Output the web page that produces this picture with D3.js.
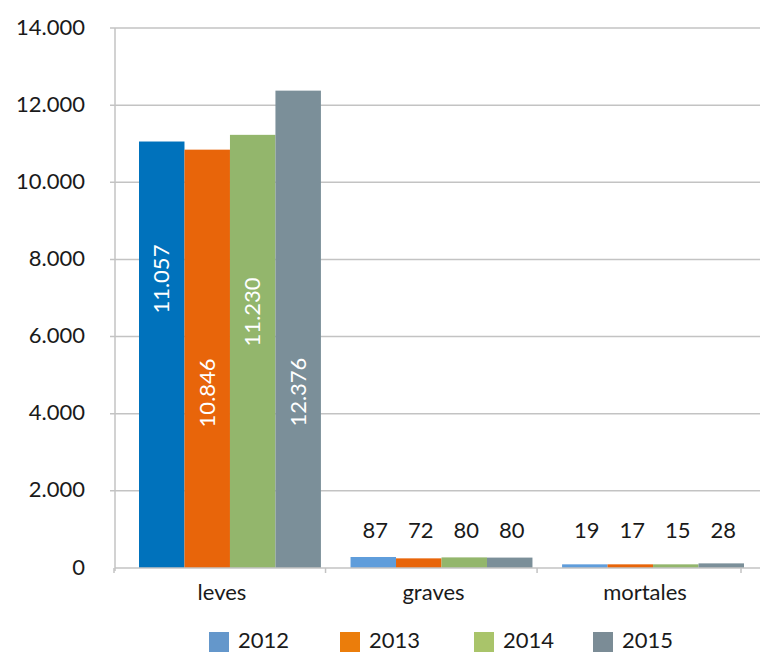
<!DOCTYPE html>
<html>
<head>
<meta charset="utf-8">
<script src="https://cdn.jsdelivr.net/npm/d3@7"></script>
<style>
  body { margin: 0; background: #fff; }
  svg text { font-family: Lato, "Open Sans", sans-serif; fill: #1a1a1a; }
</style>
</head>
<body>
<svg id="chart" width="760" height="652"></svg>
<script>
//----------------------------------------------------------------------------------------------------------------------
// Data
//----------------------------------------------------------------------------------------------------------------------
const categorias = ["leves", "graves", "mortales"];
const anios = ["2012", "2013", "2014", "2015"];

// printed values, one array per year (leves, graves, mortales)
const v2012 = [11057, 87, 19];
const v2013 = [10846, 72, 17];
const v2014 = [11230, 80, 15];
const v2015 = [12376, 80, 28];

// bar heights as they are drawn in the picture (the small groups are drawn taller than their labels)
const alto2012 = [11057, 285, 95];
const alto2013 = [10846, 250, 95];
const alto2014 = [11230, 275, 95];
const alto2015 = [12376, 270, 120];

// where the rotated labels of the "leves" group sit, in data units
const posEtiqueta = [7490, 4540, 6640, 4560];

const yTicks = [0, 2000, 4000, 6000, 8000, 10000, 12000, 14000];

const coloresBarra = ["#5f9ddb", "#e8650a", "#93b66c", "#7b8f99"];
const colorLeves2012 = "#0072bc";
const coloresLeyenda = ["#6497cb", "#eb7d0b", "#a9c46a", "#7b8c96"];

const valores = [v2012, v2013, v2014, v2015];
const alturas = [alto2012, alto2013, alto2014, alto2015];

//----------------------------------------------------------------------------------------------------------------------
// Scales
//----------------------------------------------------------------------------------------------------------------------
const svg = d3.select("#chart");
const axisX = 115, baseY = 568, rightX = 760;

const yScale = d3.scaleLinear().domain([0, 14000]).range([baseY, 28]);
const xScale = d3.scaleBand().domain(categorias).range([139, 744]).paddingInner(0.14);
const xInner = d3.scaleBand().domain(anios).range([0, xScale.bandwidth()]);

const fmt = d3.formatLocale({decimal: ",", thousands: ".", grouping: [3], currency: ["", "€"]}).format(",");

// grid + y ticks
svg.append("g").selectAll("line.grid")
    .data(yTicks.filter(d => d > 0))
    .enter().append("line")
    .attr("x1", axisX - 5).attr("x2", rightX)
    .attr("y1", d => yScale(d)).attr("y2", d => yScale(d))
    .attr("stroke", "#c3c3c3").attr("stroke-width", 1.5);

svg.append("g").selectAll("text")
    .data(yTicks)
    .enter().append("text")
    .attr("x", 85).attr("y", d => yScale(d)).attr("dy", "0.3em")
    .attr("text-anchor", "end")
    .style("font-size", "22px")
    .text(d => fmt(d));

//----------------------------------------------------------------------------------------------------------------------
// Bars
//----------------------------------------------------------------------------------------------------------------------
const rows = [];
anios.forEach((a, s) => {
    categorias.forEach((c, i) => {
        rows.push({anio: a, s: s, cat: c, i: i, valor: valores[s][i], alto: alturas[s][i]});
    });
});

svg.append("g").selectAll("rect")
    .data(rows)
    .enter().append("rect")
    .attr("x", d => xScale(d.cat) + xInner(d.anio))
    .attr("width", xInner.bandwidth())
    .attr("y", d => yScale(d.alto))
    .attr("height", d => baseY - yScale(d.alto))
    .attr("fill", d => (d.i === 0 && d.s === 0) ? colorLeves2012 : coloresBarra[d.s]);

// rotated labels inside the tall bars
svg.append("g").selectAll("text")
    .data(rows.filter(d => d.i === 0))
    .enter().append("text")
    .attr("transform", d => "translate(" + (xScale(d.cat) + xInner(d.anio) + xInner.bandwidth() / 2) + "," + yScale(posEtiqueta[d.s]) + ") rotate(-90)")
    .attr("text-anchor", "middle").attr("dy", "0.35em")
    .style("font-size", "22px").style("fill", "#fff")
    .text(d => fmt(d.valor));

// labels above the small bars
svg.append("g").selectAll("text")
    .data(rows.filter(d => d.i > 0))
    .enter().append("text")
    .attr("x", d => xScale(d.cat) + xInner(d.anio) + xInner.bandwidth() / 2 + 2)
    .attr("y", baseY - 30)
    .attr("text-anchor", "middle")
    .style("font-size", "22px")
    .text(d => fmt(d.valor));

//----------------------------------------------------------------------------------------------------------------------
// Axes
//----------------------------------------------------------------------------------------------------------------------
svg.append("line")
    .attr("x1", axisX).attr("x2", axisX).attr("y1", yScale(14000)).attr("y2", baseY + 3)
    .attr("stroke", "#c3c3c3").attr("stroke-width", 1.5);
svg.append("line")
    .attr("x1", axisX).attr("x2", rightX).attr("y1", baseY).attr("y2", baseY)
    .attr("stroke", "#c3c3c3").attr("stroke-width", 1.5);

const xTickPos = categorias.map(c => xScale(c) - 25);
xTickPos.push(xScale(categorias[2]) + xScale.bandwidth() - 3);
svg.append("g").selectAll("line")
    .data(xTickPos)
    .enter().append("line")
    .attr("x1", d => d).attr("x2", d => d).attr("y1", baseY).attr("y2", baseY + 5)
    .attr("stroke", "#c3c3c3").attr("stroke-width", 1.5);

svg.append("g").selectAll("text")
    .data(categorias)
    .enter().append("text")
    .attr("x", d => xScale(d) + xScale.bandwidth() / 2 - 8)
    .attr("y", 600)
    .attr("text-anchor", "middle")
    .style("font-size", "22px")
    .text(d => d);

//----------------------------------------------------------------------------------------------------------------------
// Legend
//----------------------------------------------------------------------------------------------------------------------
const legX = [209, 340, 474, 593];
const leg = svg.append("g").selectAll("g")
    .data(anios)
    .enter().append("g")
    .attr("transform", (d, i) => "translate(" + legX[i] + ",632)");
leg.append("rect").attr("width", 20).attr("height", 20).attr("fill", (d, i) => coloresLeyenda[i]);
leg.append("text").attr("x", 29).attr("y", 16).style("font-size", "22px").text(d => d);
</script>
</body>
</html>
